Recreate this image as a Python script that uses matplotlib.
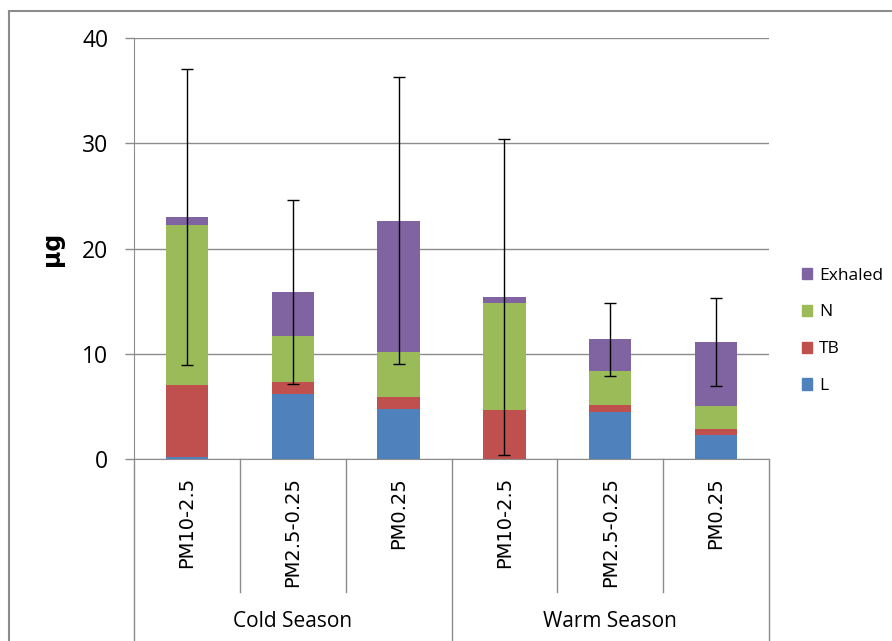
import matplotlib.pyplot as plt
from matplotlib.patches import Patch
from matplotlib.lines import Line2D

# deposited dose per size fraction (ug)
fractions = ["PM10-2.5", "PM2.5-0.25", "PM0.25", "PM10-2.5", "PM2.5-0.25", "PM0.25"]
seasons = ["Cold Season", "Warm Season"]
L = [0.22, 6.22, 4.77, 0.0, 4.49, 2.31]
TB = [6.82, 1.05, 1.11, 4.68, 0.63, 0.53]
N = [15.23, 4.39, 4.29, 10.17, 3.22, 2.18]
Exhaled = [0.73, 4.20, 12.48, 0.57, 3.03, 6.07]
err = [14.1, 8.77, 13.6, 15.0, 3.45, 4.19]

colors = {"L": "#4F81BD", "TB": "#C0504D", "N": "#9BBB59", "Exhaled": "#8064A2"}
grey = "#8C8C8C"

fig = plt.figure(figsize=(8.92, 6.41), dpi=100)
ax = fig.add_axes([134 / 892, 1 - 459 / 641, 635 / 892, 421 / 641])

x = list(range(len(fractions)))
bottom = [0.0] * len(x)
for name, vals in [("L", L), ("TB", TB), ("N", N), ("Exhaled", Exhaled)]:
    ax.bar(x, vals, width=0.4, bottom=bottom, color=colors[name], zorder=2)
    bottom = [b + v for b, v in zip(bottom, vals)]

ax.errorbar(x, bottom, yerr=err, fmt="none", ecolor="black", elinewidth=1,
            capsize=4, capthick=1, zorder=3)

ax.set_xlim(-0.5, 5.5)
ax.set_ylim(0, 40)
ax.set_yticks([0, 10, 20, 30, 40])
ax.yaxis.grid(True, color=grey, linewidth=1, zorder=0)
ax.set_xticks([])
for s in ["top", "right"]:
    ax.spines[s].set_visible(False)
for s in ["left", "bottom"]:
    ax.spines[s].set_color(grey)
ax.tick_params(axis="y", length=6.5, width=1, color=grey, pad=12,
               labelsize=16.5, labelcolor="black")
for lab in ax.get_yticklabels():
    lab.set_fontfamily("Open Sans")

ax.set_ylabel("μg", fontsize=17, fontweight="bold")
ax.yaxis.set_label_coords(-0.11, 0.5)

# two-level category axis
tr = ax.get_xaxis_transform()
for xv in [0.5, 1.5, 3.5, 4.5]:
    ax.add_line(Line2D([xv, xv], [0, -0.316], transform=tr, color=grey,
                       linewidth=1, clip_on=False))
for xv in [-0.5, 2.5, 5.5]:
    ax.add_line(Line2D([xv, xv], [0, -0.55], transform=tr, color=grey,
                       linewidth=1, clip_on=False))
for xi, lab in zip(x, fractions):
    ax.text(xi, -0.043, lab, transform=tr, rotation=90, ha="center", va="top",
            fontsize=14, family="DejaVu Sans")
for gi, lab in enumerate(seasons):
    ax.text(1 + 3 * gi, -0.387, lab, transform=tr, ha="center", va="center",
            fontsize=15, family="Open Sans")

handles = [Patch(color=colors[k]) for k in ["Exhaled", "N", "TB", "L"]]
fig.legend(handles, ["Exhaled", "N", "TB", "L"], loc="upper left",
           bbox_to_anchor=(786 / 892, 1 - 252 / 641), frameon=False,
           handlelength=0.6, handleheight=0.6, handletextpad=0.4,
           labelspacing=1.2, prop={"family": "Open Sans", "size": 12.5})

# outer chart frame
fig.add_artist(Line2D([8.5 / 892, 8.5 / 892], [0, 1 - 11 / 641],
                      transform=fig.transFigure, color=grey, linewidth=1.5))
fig.add_artist(Line2D([8.5 / 892, 1], [1 - 11 / 641, 1 - 11 / 641],
                      transform=fig.transFigure, color=grey, linewidth=1.5))

fig.savefig("out.png", dpi=100)
